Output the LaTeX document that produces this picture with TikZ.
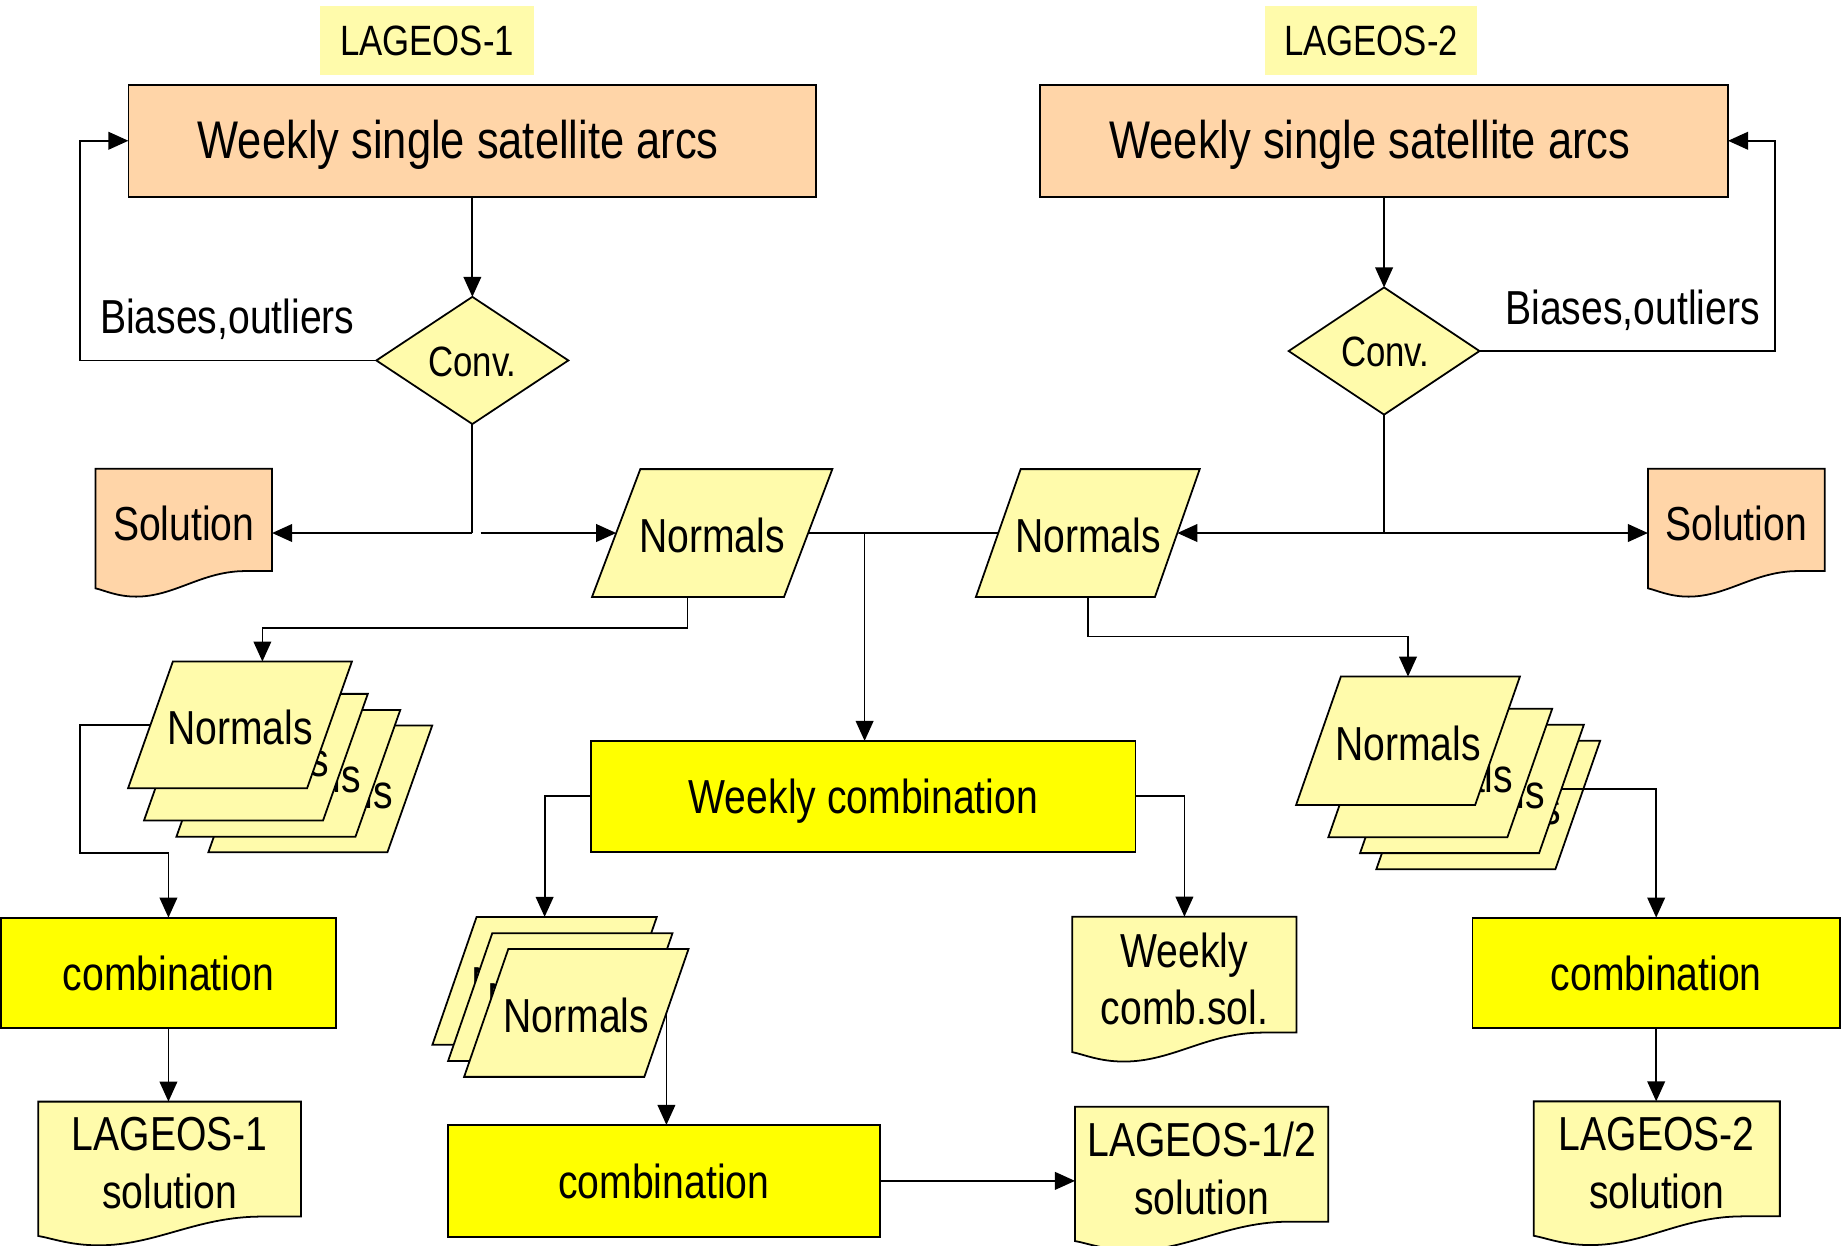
\documentclass[tikz,border=0pt]{standalone}
\usepackage{fontspec}
\setmainfont{Liberation Sans}[FakeStretch=0.82]
\usetikzlibrary{arrows.meta,calc}
\definecolor{peach}{HTML}{FFD5A8}
\definecolor{lyel}{HTML}{FFFBAB}
\definecolor{yel}{HTML}{FFFF00}
\newcommand\fsmain{\fontsize{40.5}{49}\selectfont}
\newcommand\fsbig{\fontsize{45}{54}\selectfont}
\newcommand\fssmall{\fontsize{36}{43}\selectfont}
\tikzset{
 outl/.style={draw=black, line width=1.5pt, line join=miter},
 frame/.style={draw=none, inner sep=0pt, outer sep=0pt, shape=rectangle},
 txt/.style={inner sep=0pt, align=center, font=\fsmain},
 boxnode/.style={outl, inner sep=0pt, outer sep=0pt, font=\fsmain, text depth=0pt},
 tagnode/.style={fill=lyel, inner sep=0pt, outer sep=0pt, minimum height=59, font=\fssmall},
 arr/.style={line width=1.5pt, -{Triangle[length=17pt,width=15pt]}},
 conn/.style={line width=1.5pt},
}
% parallelogram: name, cx, cy, edge width, height, slant, text
\newcommand\paranode[7]{%
 \node[frame, minimum width=#4, minimum height=#5] (#1) at (#2,#3) {};
 \draw[outl, fill=lyel] ($(#1.north west)+({#6/2},0)$) -- ($(#1.north east)+({#6/2},0)$)
   -- ($(#1.south east)-({#6/2},0)$) -- ($(#1.south west)-({#6/2},0)$) -- cycle;
 \node[txt] at ($(#1.center)+(0,2)$) {#7};}
% document: name, x0, y0, W, H, fill, text
\newcommand\docnode[7]{%
 \node[frame, anchor=north west, minimum width=#4, minimum height={0.8*#5}] (#1) at (#2,#3) {};
 \draw[outl, fill=#6] (#2,#3) -- ({#2+#4},#3) -- ({#2+#4},{#3+0.8*#5})
   -- ({#2+0.85*#4},{#3+0.8*#5})
   .. controls ({#2+0.6*#4},{#3+0.8*#5}) and ({#2+0.45*#4},{#3+#5}) .. ({#2+0.23*#4},{#3+#5})
   .. controls ({#2+0.12*#4},{#3+#5}) and ({#2+0.05*#4},{#3+0.95*#5}) .. (#2,{#3+0.935*#5}) -- cycle;
 \node[txt] at ({#2+#4/2},{#3+0.43*#5}) {#7};}
% diamond: name, cx, cy, w, h
\newcommand\diamnode[5]{%
 \node[frame, minimum width=#4, minimum height=#5] (#1) at (#2,#3) {};
 \draw[outl, fill=lyel] (#1.north) -- (#1.east) -- (#1.south) -- (#1.west) -- cycle;}
\begin{document}
\begin{tikzpicture}[x=1pt,y=-1pt]
\useasboundingbox (0,0) rectangle (1568,1057);

% satellite tags
\node[tagnode, minimum width=181] (lab1) at (362.5,34.5) {LAGEOS-1};
\node[tagnode, minimum width=180] (lab2) at (1164,34.5) {LAGEOS-2};

% weekly arcs
\node[boxnode, fill=peach, minimum width=584, minimum height=95] (arcs1) at (401,119.5) {};
\node[inner sep=0pt, font=\fsbig] (arcs1t) at (389,123) {Weekly single satellite arcs};
\node[boxnode, fill=peach, minimum width=584, minimum height=95] (arcs2) at (1175,119.5) {};
\node[inner sep=0pt, font=\fsbig] (arcs2t) at (1163,123) {Weekly single satellite arcs};

% convergence
\diamnode{conv1}{401}{306}{163}{108}
\node[inner sep=0pt, font=\fssmall] (conv1t) at (401,307) {Conv.};
\diamnode{conv2}{1175}{298}{162}{108}
\node[inner sep=0pt, font=\fssmall] (conv2t) at (1176,299) {Conv.};

\node[txt] (bias1) at (193,271) {Biases,outliers};
\node[txt] (bias2) at (1386,263) {Biases,outliers};

% documents
\docnode{sol1}{81}{398}{150}{108.5}{peach}{Solution}
\docnode{sol2}{1399}{398}{150}{108.5}{peach}{Solution}
\docnode{wsol}{910.3}{778.2}{190.4}{123}{lyel}{Weekly\\comb.sol.}
\docnode{lasol}{32.5}{935.2}{223}{122}{lyel}{LAGEOS-1\\solution}
\docnode{lbsol}{1302}{935}{209}{122}{lyel}{LAGEOS-2\\solution}
\docnode{labsol}{912.6}{939.5}{215}{122}{lyel}{LAGEOS-1/2\\solution}

% normals
\paranode{norm1}{604.6}{452.5}{163}{108.5}{41}{Normals}
\paranode{norm2}{923.5}{452.5}{152}{108.5}{38}{Normals}

% left stack
\paranode{ls4}{271.9}{669.75}{152}{107.5}{38}{Normals}
\paranode{ls3}{244.8}{656.5}{152}{107.5}{38}{Normals}
\paranode{ls2}{217.25}{642.8}{152}{107.5}{38}{Normals}
\paranode{ls1}{203.75}{615.35}{152}{107.5}{38}{Normals}

% right stack
\paranode{rs4}{1263.45}{683.35}{152}{109}{38}{Normals}
\paranode{rs3}{1249.6}{669.75}{152}{109}{38}{Normals}
\paranode{rs2}{1222.7}{656.2}{152}{109}{38}{Normals}
\paranode{rs1}{1195.3}{628.9}{152}{109}{38}{Normals}

% middle stack
\paranode{ms3}{462.35}{832.65}{153}{108.5}{37.5}{Normals}
\paranode{ms2}{475.65}{846.5}{153}{108.5}{37.5}{Normals}
\paranode{ms1}{489.25}{859.95}{153}{108.5}{37.5}{Normals}

% combinations
\node[boxnode, fill=yel, minimum width=462, minimum height=94] (wc) at (733,676) {Weekly combination};
\node[boxnode, fill=yel, minimum width=284, minimum height=94] (comb1) at (143,826) {combination};
\node[boxnode, fill=yel, minimum width=312, minimum height=94] (comb2) at (1406,826) {combination};
\node[boxnode, fill=yel, minimum width=367, minimum height=95] (comb3) at (563.5,1002.5) {combination};

% connectors
\draw[arr] (arcs1.south) -- (conv1.north);
\draw[arr] (arcs2.south) -- (conv2.north);
\coordinate (fb1) at (68,306);
\draw[arr] (conv1.west) -- (fb1) |- (arcs1.west);
\coordinate (fb2) at (1507,298);
\draw[arr] (conv2.east) -- (fb2) |- (arcs2.east);

\coordinate (j1) at (401,452.5);
\coordinate (j1b) at (408,452.5);
\draw[conn] (conv1.south) -- (j1);
\draw[arr] (j1) -- (sol1.east |- j1);
\draw[arr] (j1b) -- (norm1.west);
\draw[conn] (norm1.east) -- (norm2.west);
\coordinate (j2) at (734,452.5);
\draw[arr] (j2) -- (j2 |- wc.north);
\coordinate (j3) at (1175,452.5);
\draw[conn] (conv2.south) -- (j3);
\draw[arr] (j3) -- (norm2.east);
\draw[arr] (j3) -- (sol2.west |- j3);

\coordinate (n1b) at ($(norm1.south)+(-21,0)$);
\coordinate (ls1top) at ($(ls1.north)+(19,0)$);
\draw[arr] (n1b) -- ++(0,26.5) -| (ls1top);
\draw[arr] (norm2.south) -- ++(0,33.5) -| (rs1.north);

\coordinate (fb3) at (68,724);
\draw[arr] (ls1.west) -| (fb3) -| (comb1.north);
\draw[arr] (rs3.east) -| (comb2.north);
\draw[arr] (wc.west) -| (ms3.north);
\draw[arr] (wc.east) -| (wsol.north);
\draw[arr] (ms1.east) -- (ms1.east |- comb3.north);
\draw[arr] (comb1.south) -- (comb1.south |- lasol.north);
\draw[arr] (comb2.south) -- (comb2.south |- lbsol.north);
\draw[arr] (comb3.east) -- (comb3.east -| labsol.west);
\end{tikzpicture}
\end{document}
